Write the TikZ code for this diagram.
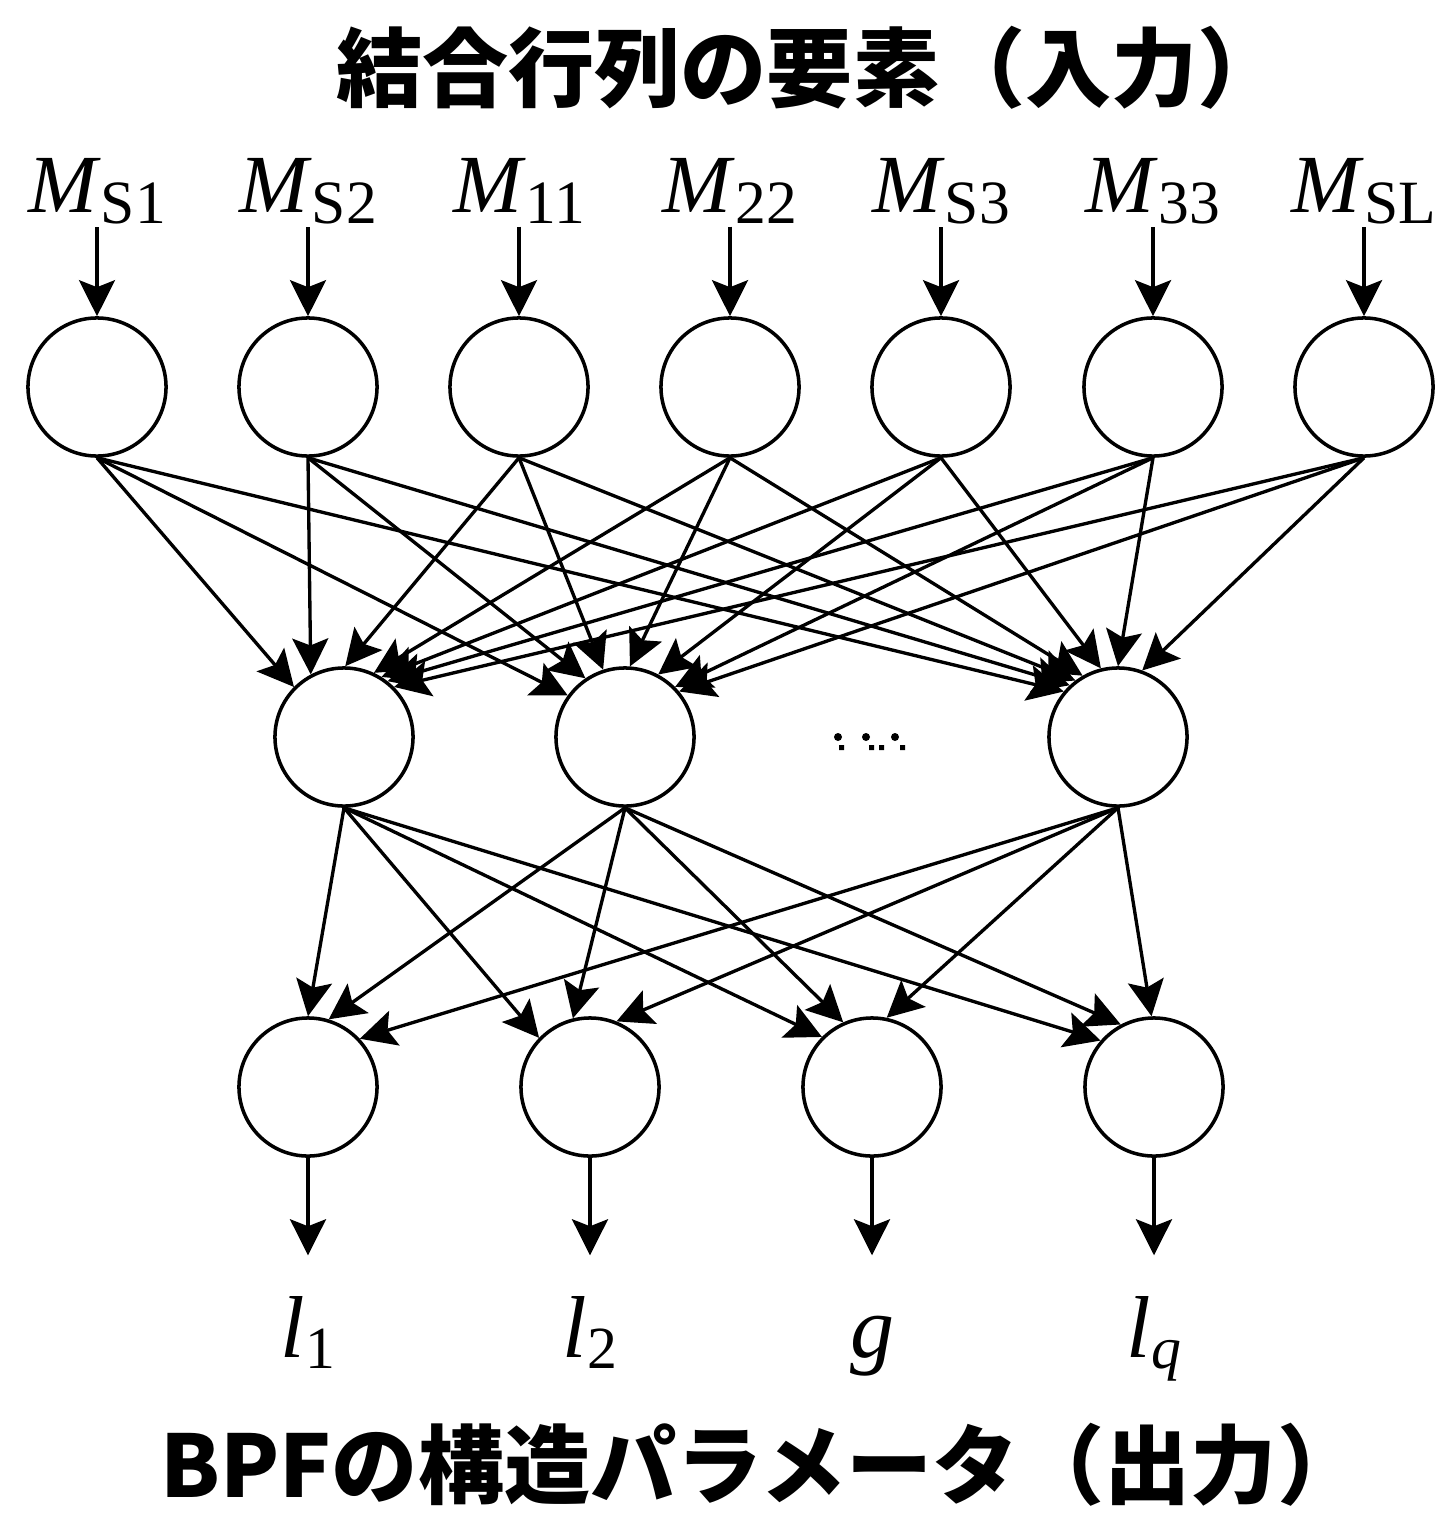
\documentclass[tikz,border=0pt]{standalone}
\usepackage{fontspec}
\setmainfont{Liberation Serif}
\newfontfamily\jpfont{Noto Sans CJK JP}
\usetikzlibrary{arrows.meta}
\newcommand{\msub}[2]{\textit{#1}\raisebox{-0.11cm}{\fontsize{17.5pt}{17.5pt}\selectfont #2}}
\newcommand{\lsub}[2]{\textit{#1}\raisebox{-0.11cm}{\fontsize{17pt}{17pt}\selectfont #2}}
\begin{document}
\begin{tikzpicture}[x=0.01cm,y=-0.01cm,line width=0.95pt,
  >={Stealth[length=0.36cm,width=0.36cm,inset=0.07cm]},
  neuron/.style={circle,draw,line width=1pt,minimum size=1.38cm,inner sep=0pt},
  inlab/.style={inner sep=0pt,outer sep=1pt,anchor=base,font=\fontsize{23.5pt}{28pt}\selectfont},
  outlab/.style={inner sep=0pt,anchor=base,text height=0.6cm,text depth=0.15cm,font=\fontsize{25pt}{30pt}\selectfont},
  title/.style={inner sep=0pt,font=\jpfont\bfseries\fontsize{24.5pt}{29pt}\selectfont}]
\useasboundingbox (0,0) rectangle (1437,1518);
%标题
\node[title] (ttop) at (810,68) {結合行列の要素（入力）};
\node[title] (tbot) at (762,1465) {BPFの構造パラメータ（出力）};

%输入标签
\node[inlab] (ms1) at (97,212) {\msub{M}{S1}};
\node[inlab] (ms2) at (308,212) {\msub{M}{S2}};
\node[inlab] (m11) at (519,212) {\msub{M}{11}};
\node[inlab] (m22) at (730,212) {\msub{M}{22}};
\node[inlab] (ms3) at (941,212) {\msub{M}{S3}};
\node[inlab] (m33) at (1153,212) {\msub{M}{33}};
\node[inlab] (msl) at (1364,212) {\msub{M}{SL}};

%输入层
\node[neuron] (i1) at (97,387) {};
\node[neuron] (i2) at (308,387) {};
\node[neuron] (i3) at (519,387) {};
\node[neuron] (i4) at (730,387) {};
\node[neuron] (i5) at (941,387) {};
\node[neuron] (i6) at (1153,387) {};
\node[neuron] (i7) at (1364,387) {};

%中间层
\node[neuron] (h1) at (344,737) {};
\node[neuron] (h2) at (625,737) {};
\node[neuron] (h3) at (1118,737) {};
\fill (838,737) circle (4) (866,737) circle (4) (895,737) circle (4);
\fill (839,745) rectangle ++(5,5) (869,745) rectangle ++(5,5)
      (879,745) rectangle ++(5,5) (900,745) rectangle ++(5,5);

%输出层
\node[neuron] (o1) at (308,1087) {};
\node[neuron] (o2) at (590,1087) {};
\node[neuron] (o3) at (872,1087) {};
\node[neuron] (o4) at (1154,1087) {};

%输出标签
\node[outlab] (l1) at (308,1357) {\lsub{l}{1}};
\node[outlab] (l2) at (590,1357) {\lsub{l}{2}};
\node[outlab] (g) at (872,1357) {\textit{g}};
\node[outlab] (lq) at (1154,1357) {\lsub{l}{\textit{q}}};

%标签向下到输入层
\draw[->] (ms1.south)--(i1.north);
\draw[->] (ms2.south)--(i2.north);
\draw[->] (m11.south)--(i3.north);
\draw[->] (m22.south)--(i4.north);
\draw[->] (ms3.south)--(i5.north);
\draw[->] (m33.south)--(i6.north);
\draw[->] (msl.south)--(i7.north);

%输入层连到中间层
\draw[->] (i1.south)--(h1.135);
\draw[->] (i2.south)--(h1.118);
\draw[->] (i3.south)--(h1.89);
\draw[->] (i4.south)--(h1.65);
\draw[->] (i5.south)--(h1.58);
\draw[->] (i6.south)--(h1.52);
\draw[->] (i7.south)--(h1.45);

\draw[->] (i1.south)--(h2.144);
\draw[->] (i2.south)--(h2.124);
\draw[->] (i3.south)--(h2.108);
\draw[->] (i4.south)--(h2.86);
\draw[->] (i5.south)--(h2.62);
\draw[->] (i6.south)--(h2.45);
\draw[->] (i7.south)--(h2.40);

\draw[->] (i1.south)--(h3.140);
\draw[->] (i2.south)--(h3.133);
\draw[->] (i3.south)--(h3.127);
\draw[->] (i4.south)--(h3.120);
\draw[->] (i5.south)--(h3.104);
\draw[->] (i6.south)--(h3.90);
\draw[->] (i7.south)--(h3.70);

%中间层连到输出层
\draw[->] (h1.south)--(o1.90);
\draw[->] (h2.south)--(o1.73);
\draw[->] (h3.south)--(o1.43);

\draw[->] (h1.south)--(o2.136);
\draw[->] (h2.south)--(o2.104);
\draw[->] (h3.south)--(o2.68);

\draw[->] (h1.south)--(o3.135);
\draw[->] (h2.south)--(o3.114);
\draw[->] (h3.south)--(o3.78);

\draw[->] (h1.south)--(o4.139);
\draw[->] (h2.south)--(o4.118);
\draw[->] (h3.south)--(o4.92);

%输出箭头
\draw[->,shorten >=0.4cm] (o1.south)--(l1.north);
\draw[->,shorten >=0.4cm] (o2.south)--(l2.north);
\draw[->,shorten >=0.4cm] (o3.south)--(g.north);
\draw[->,shorten >=0.4cm] (o4.south)--(lq.north);
\end{tikzpicture}
\end{document}
